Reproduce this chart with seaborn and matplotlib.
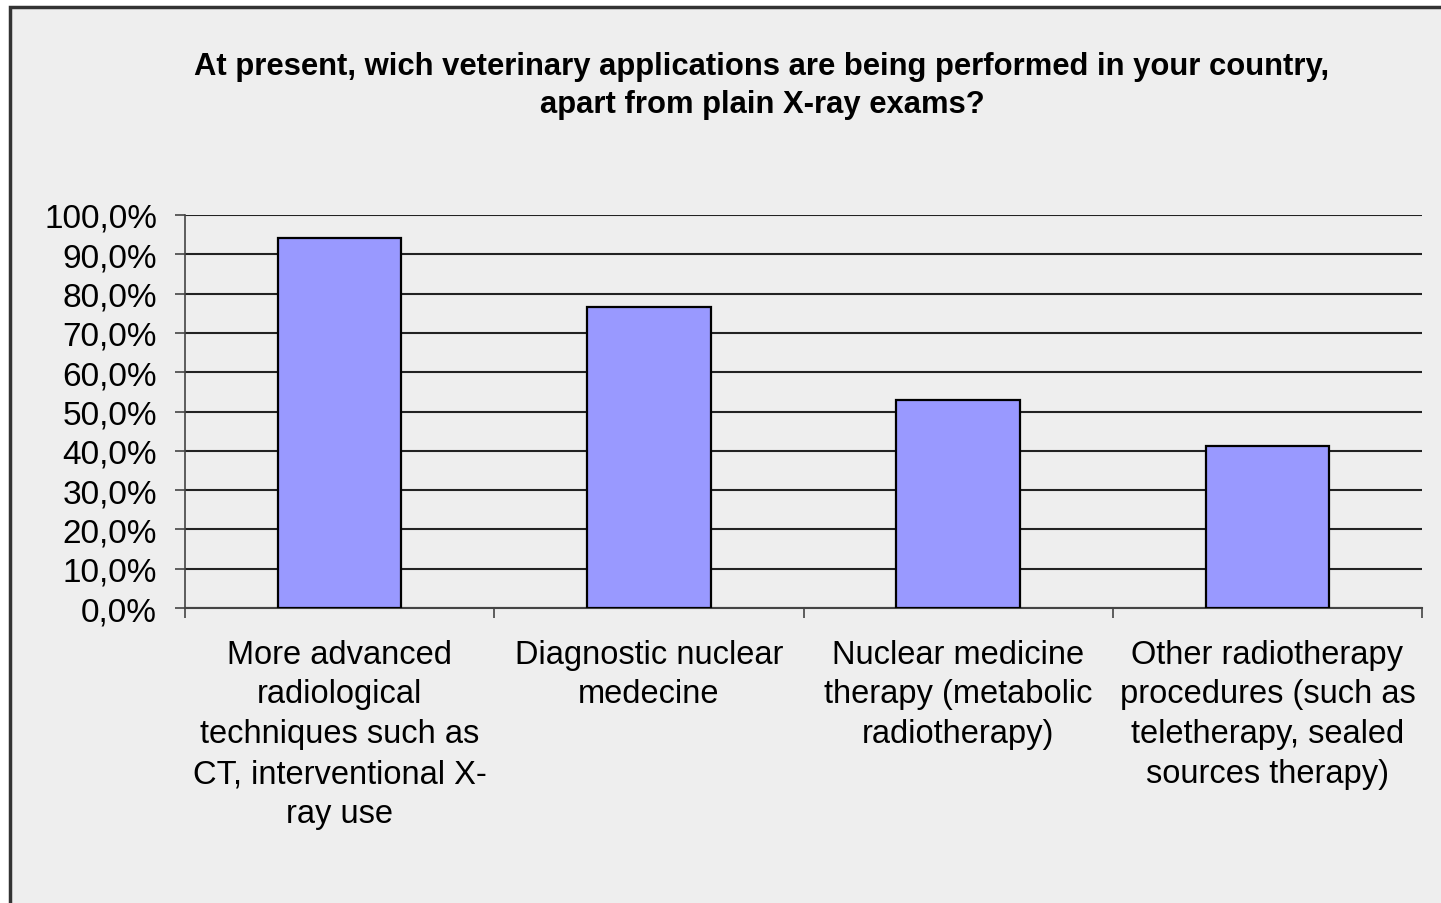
import matplotlib
matplotlib.use("Agg")
import matplotlib.pyplot as plt
import seaborn as sns
import pandas as pd
from matplotlib import font_manager
from matplotlib.patches import Rectangle
from matplotlib.ticker import FuncFormatter, FixedLocator

# Data (share of respondents, %)
categories = [
    "More advanced\nradiological\ntechniques such as\nCT, interventional X-\nray use",
    "Diagnostic nuclear\nmedecine",
    "Nuclear medicine\ntherapy (metabolic\nradiotherapy)",
    "Other radiotherapy\nprocedures (such as\nteletherapy, sealed\nsources therapy)",
]
values = [94.1, 76.5, 52.9, 41.2]
title_lines = [
    "At present, wich veterinary applications are being performed in your country,",
    "apart from plain X-ray exams?",
]

df = pd.DataFrame({"Application": categories, "Share": values})

sns.set_theme(style="white")
plt.rcParams["font.family"] = ["Liberation Sans", "DejaVu Sans"]
plt.rcParams["text.color"] = "black"

names = {f.name for f in font_manager.fontManager.ttflist}
if "Liberation Sans Narrow" in names:
    title_family = ["Liberation Sans Narrow", "Liberation Sans"]
    title_size = 23.5
else:
    title_family = ["Liberation Sans", "DejaVu Sans"]
    title_size = 22.3

W, H = 1441, 904
fig = plt.figure(figsize=(W / 100, H / 100), dpi=100, facecolor="white")

# Chart area background with border
fig.patches.append(Rectangle((10 / W, -0.05), 1.0, (H - 8) / H + 0.05, transform=fig.transFigure,
                             facecolor="#EEEEEE", edgecolor="#333333", linewidth=2.5, zorder=-5))

ax = fig.add_axes([185 / W, (H - 609) / H, (1422 - 185) / W, (609 - 216) / H])
ax.set_zorder(2)
ax.set_facecolor("#EEEEEE")

sns.barplot(data=df, x="Application", y="Share", ax=ax, width=0.4, color="#9999FF",
            saturation=1, edgecolor="black", linewidth=1.6, zorder=3)

ax.set_ylim(0, 100)
ax.set_xlim(-0.5, 3.5)
ax.yaxis.set_major_locator(FixedLocator(range(0, 101, 10)))
ax.yaxis.set_major_formatter(FuncFormatter(lambda v, p: f"{v:.1f}%".replace(".", ",")))
ax.set_axisbelow(True)
ax.grid(axis="y", color="#222222", linewidth=1.5)
ax.grid(axis="x", visible=False)

for s in ["top", "right"]:
    ax.spines[s].set_visible(False)
ax.spines["left"].set_color("#444444")
ax.spines["left"].set_linewidth(1.2)
ax.spines["bottom"].set_color("#444444")
ax.spines["bottom"].set_linewidth(1.5)

ax.tick_params(axis="y", which="major", left=True, length=7, width=1.2, color="#444444",
               labelsize=24, pad=13, labelcolor="black")
ax.tick_params(axis="x", which="major", bottom=False, labelsize=23.5, pad=16, labelcolor="black")
ax.set_xticks([-0.5, 0.5, 1.5, 2.5, 3.5], minor=True)
ax.tick_params(axis="x", which="minor", bottom=True, length=7, width=1.2, color="#444444")
for lbl in ax.get_xticklabels():
    lbl.set_multialignment("center")
    lbl.set_linespacing(1.37)
ax.set_xlabel("")
ax.set_ylabel("")

fig.text(762 / W, (H - 67) / H, title_lines[0], ha="center", va="center",
         fontsize=title_size, fontweight="bold", family=title_family)
fig.text(762 / W, (H - 105) / H, title_lines[1], ha="center", va="center",
         fontsize=title_size, fontweight="bold", family=title_family)

fig.savefig("out.png", dpi=100, facecolor="white")
